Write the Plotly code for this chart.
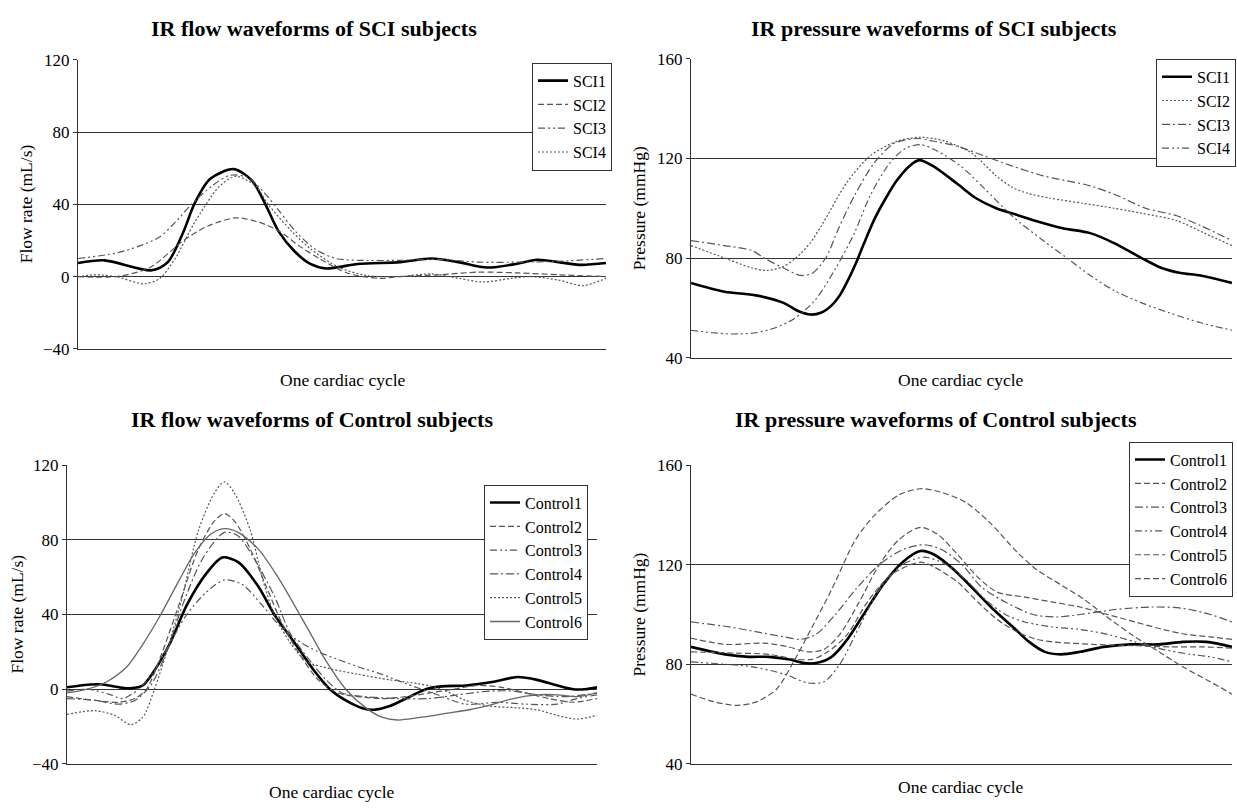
import plotly.graph_objects as go

# ---------------- DATA (x = % of one cardiac cycle) ----------------
# Panel 1: IR flow waveforms of SCI subjects (mL/s)
sci1_flow_x = [0, 5, 14, 17, 20, 22, 25, 29.5, 33, 35.5, 38, 41, 44, 47, 53, 61, 67, 72, 77.5, 83, 87, 95, 100]
sci1_flow_y = [7.5, 9, 3.5, 8, 25, 40, 54, 59.5, 53, 40, 25, 14, 7, 4.5, 7, 8, 10, 8, 5, 7, 9.3, 6.5, 7.5]
sci2_flow_x = [0, 7.2, 13.6, 20.0, 24.6, 29.9, 34.4, 38.2, 41.9, 45.7, 51.0, 57.1, 60.8, 68.4, 76.0, 83.5, 91.1, 100]
sci2_flow_y = [0, 0, 5, 20, 28, 32.5, 30, 25, 17, 10, 2, -1, 0, 1, 2.5, 2, 1, 0]
sci3_flow_x = [0, 7.2, 11.7, 15.5, 18.4, 21.5, 25.3, 28.7, 32.1, 35.1, 38.2, 41.2, 45.0, 48.8, 53.3, 60.8, 68.4, 76.0, 83.5, 91.1, 100]
sci3_flow_y = [10, 13, 17, 22, 30, 40, 50, 56, 55, 47, 36, 25, 15, 10, 9, 9, 9.5, 8, 8, 8.5, 10]
sci4_flow_x = [0, 3.4, 7.2, 12.5, 15.5, 18.4, 22.1, 26.8, 29.9, 33.7, 36.0, 40.5, 44.2, 49.5, 54.8, 60.8, 66.9, 72.2, 76.7, 82.0, 85.8, 91.1, 95.6, 100]
sci4_flow_y = [0, 1, 0, -4, -1, 10, 30, 50, 55.5, 50, 40, 25, 15, 5, 0.5, 0, 1.5, -1, -3, -1, 0, -2, -5, -1]

# Panel 2: IR pressure waveforms of SCI subjects (mmHg)
sci1_pres_x = [0, 6.2, 12, 17.1, 20, 22.1, 24, 26, 27.5, 29, 30.5, 32, 34, 36, 38, 40.4, 42.2, 44.7, 49.1, 52.7, 56.4, 59.3, 63.6, 68.7, 73.8, 78.2, 83.3, 87, 90.5, 94.2, 100]
sci1_pres_y = [70, 66.5, 65, 62, 58.5, 57.3, 58, 61, 65, 71, 78, 86, 96, 104, 111, 117, 119.3, 117, 110, 104, 100, 98, 95, 92, 90, 86, 80, 76, 74, 73, 70]
sci2_pres_x = [0, 6.2, 11.3, 14, 17, 19.4, 22, 24.4, 28.7, 33.1, 38.2, 42.5, 46.9, 52, 56.4, 59.3, 62.2, 66.5, 72.4, 78.2, 83.3, 89.8, 94.9, 100]
sci2_pres_y = [85, 80, 76, 75, 76.5, 80, 86, 94, 110, 121, 127, 128.5, 127, 122, 113, 108.5, 106, 104, 102, 100, 98, 95, 90, 85]
sci3_pres_x = [0, 6.2, 11.3, 13.5, 17.1, 20.3, 22.5, 24.9, 27.3, 30.2, 33.8, 37.5, 41.8, 44.7, 49.1, 54.2, 59.3, 65.1, 69.5, 73.8, 78.9, 84, 89.8, 94.2, 100]
sci3_pres_y = [87, 85, 83, 80, 76, 73, 74, 80, 92, 105, 118, 126, 128, 127, 125, 121, 117, 113, 111, 109, 105, 100, 97, 93, 87]
sci4_pres_x = [0, 4, 7.6, 12, 15.6, 19.3, 22.9, 26.5, 30.2, 33.1, 36.7, 39.6, 42.5, 45.5, 49.8, 54.2, 59.3, 65.1, 69.5, 73.8, 78.2, 83.3, 88.4, 94.2, 100]
sci4_pres_y = [51, 50, 49.5, 50, 52, 56, 63, 75, 90, 105, 118, 124, 125.5, 123, 117, 108, 97, 87, 80, 73, 67, 62, 58, 54, 51]

# Panel 3: IR flow waveforms of Control subjects (mL/s)
c1_flow_x = [0, 4.5, 6.8, 9.8, 12.0, 14.3, 16.5, 19.5, 22.6, 26.3, 29.3, 32.3, 36.1, 39.1, 42.9, 46.6, 49.6, 52.6, 55.6, 57.9, 60.9, 64.7, 67.7, 70.7, 75.2, 80.5, 85.0, 88.7, 92.5, 95.5, 97.7, 100]
c1_flow_y = [1, 2.5, 2.5, 1, 0.5, 2, 10, 25, 45, 62, 70.5, 68, 55, 40, 25, 10, 0, -6, -10, -11, -9, -4, 0, 1.5, 2, 4, 6.5, 5, 2, 0, 0, 1]
c2_flow_x = [0, 5.3, 9.8, 12.8, 15.0, 18.0, 21.1, 24.8, 27.8, 29.7, 31.6, 34.6, 37.6, 40.6, 43.6, 47.4, 51.1, 54.9, 59.4, 63.9, 68.4, 72.9, 77.4, 82.0, 86.5, 91.0, 95.5, 100]
c2_flow_y = [-4, -6, -7, -5, 0, 20, 45, 75, 90, 94, 90, 75, 55, 35, 20, 5, -2, -4, -5, -4, -2, 0, 2, 1, -2, -5, -7, -5]
c3_flow_x = [0, 3.8, 8.3, 10.5, 13.5, 16.5, 19.5, 22.6, 26.3, 29.7, 33.1, 36.8, 39.8, 43.6, 47.4, 51.1, 54.9, 59.4, 63.9, 69.9, 75.2, 81.2, 86.5, 92.5, 96.2, 100]
c3_flow_y = [-1, 0, -3, -5, 0, 10, 25, 40, 52, 58.5, 56, 45, 35, 26, 20, 16, 12, 8, 3, -3, -8, -7, -8, -8, -5, -3]
c4_flow_x = [0, 5.3, 9.8, 12.8, 15.8, 18.8, 21.8, 25.6, 29.7, 32.3, 35.3, 39.1, 42.1, 45.9, 48.9, 51.9, 56.4, 62.4, 68.4, 73.7, 79.7, 84.2, 88.7, 94.0, 100]
c4_flow_y = [-5, -6, -8, -6, 2, 20, 45, 70, 84, 82, 70, 50, 30, 15, 5, -2, -4, -5, -5, -3, -1, -1, -3, -4, -2]
c5_flow_x = [0, 5.3, 9.0, 12.0, 14.3, 16.5, 18.8, 21.8, 24.8, 27.8, 29.7, 31.6, 34.6, 36.8, 39.1, 42.1, 45.1, 49.6, 54.9, 60.9, 66.2, 70.7, 75.2, 79.7, 85.0, 88.7, 92.5, 96.2, 100]
c5_flow_y = [-13.5, -11.5, -14, -19, -15, 0, 20, 50, 85, 105, 111, 105, 85, 60, 40, 25, 15, 11, 8, 5, 3, 0, -6, -9, -10, -11, -14, -16, -14]
c6_flow_x = [0, 3.8, 7.5, 11.3, 14.3, 17.3, 21.1, 24.1, 27.1, 29.7, 32.3, 36.1, 39.8, 42.9, 45.9, 48.9, 52.6, 56.4, 59.4, 62.4, 66.9, 71.4, 75.9, 80.5, 84.2, 88.7, 92.5, 96.2, 100]
c6_flow_y = [-2, 0, 4, 12, 24, 38, 58, 73, 83, 86, 84, 75, 60, 45, 30, 15, 0, -10, -15, -16.5, -15, -13, -11, -8, -5, -3, -3, -4, -2]

# Panel 4: IR pressure waveforms of Control subjects (mmHg)
c1_pres_x = [0, 6.3, 10.7, 14.4, 18.0, 20.9, 23.1, 26.0, 28.9, 31.9, 35.5, 39.1, 42.4, 45.0, 48.6, 52.3, 55.9, 59.5, 62.5, 65.4, 68.3, 71.9, 76.3, 81.4, 86.5, 90.9, 95.3, 100]
c1_pres_y = [87, 84, 83, 83, 82, 80.5, 80.5, 83, 90, 100, 112, 121, 125.5, 124, 118, 110, 102, 95, 89, 85, 84, 85, 87, 88, 88, 89, 89, 87]
c2_pres_x = [0, 6.3, 13.6, 18.0, 21.6, 24.6, 27.5, 31.1, 34.8, 38.4, 42.4, 45.7, 49.3, 53.0, 56.6, 61.7, 66.8, 71.9, 77.0, 82.1, 87.2, 91.6, 96.0, 100]
c2_pres_y = [90.5, 88, 88.5, 87, 85, 86, 92, 105, 120, 130, 135, 132, 124, 115, 109, 107, 105, 103, 100, 97, 94, 92, 91, 90]
c3_pres_x = [0, 7.1, 12.2, 17.3, 20.2, 23.1, 26.7, 30.4, 34.8, 39.1, 43.1, 46.4, 50.1, 53.7, 58.1, 63.2, 67.6, 71.9, 78.5, 85.1, 90.9, 96.0, 100]
c3_pres_y = [97, 95, 93, 91, 90, 92, 100, 110, 120, 126, 128, 126, 120, 111, 105, 100, 99, 100, 102, 103, 102.5, 100, 97]
c4_pres_x = [0, 6.3, 11.4, 17.3, 21.6, 24.6, 27.5, 31.1, 34.8, 39.1, 43.1, 47.2, 50.8, 54.4, 58.1, 61.7, 66.8, 71.9, 77.0, 82.1, 87.2, 92.3, 96.0, 100]
c4_pres_y = [81, 80, 79, 76, 72.5, 73, 80, 95, 110, 120, 123, 120, 114, 106, 100, 97, 95, 94, 92, 89, 86, 84, 83, 81]
c5_pres_x = [0, 8.5, 14.4, 19.5, 22.4, 25.3, 28.9, 32.6, 37.0, 42.4, 45.0, 49.3, 53.0, 56.6, 60.3, 63.9, 66.8, 74.1, 81.4, 88.7, 94.5, 100]
c5_pres_y = [85, 84.5, 84, 82, 82, 85, 92, 105, 116, 121, 119, 113, 105, 98, 93, 90, 89, 88, 87.5, 87, 87, 86.5]
c6_pres_x = [0, 4.2, 8.5, 12.2, 15.8, 18.7, 22.4, 26.0, 30.4, 34.0, 38.4, 42.4, 46.4, 50.8, 55.2, 60.3, 63.9, 68.3, 72.7, 76.3, 81.4, 86.5, 90.9, 96.0, 100]
c6_pres_y = [68, 65, 63.5, 65, 70, 80, 95, 110, 130, 140, 148, 150.5, 149, 145, 137, 125, 118, 112, 106, 100, 92, 85, 79, 73, 68]

flow_ticks = [-40, 0, 40, 80, 120]
pres_ticks = [40, 80, 120, 160]

titles = ["IR flow waveforms of SCI subjects", "IR pressure waveforms of SCI subjects",
          "IR flow waveforms of Control subjects", "IR pressure waveforms of Control subjects"]
x_title = "One cardiac cycle"
flow_title = "Flow rate (mL/s)"
pres_title = "Pressure (mmHg)"

# ---------------- STYLE ----------------
W, H = 1237, 812
FONT = "Liberation Serif"
GRAY = "#555555"
DASH = "6px,3px"
DOT = "2px,2px"
DASHDOT = "8px,3px,2px,3px"
DASHDOTDOT = "7px,3px,2px,3px,2px,3px"

def px_x(p):
    return p / W

def px_y(p):
    return 1 - p / H

# plot areas in pixels: (left, right, top, bottom)
areas = [(78, 606, 52, 348), (691, 1232, 51, 357), (67, 597, 467, 773), (691, 1232, 467, 773)]

fig = go.Figure()

def add(x, y, name, axis, legend, dash="solid", color=GRAY, width=1.2):
    fig.add_trace(go.Scatter(
        x=x, y=y, name=name, mode="lines",
        line=dict(color=color, width=width, dash=dash, shape="spline", smoothing=0.8),
        xaxis="x" + axis, yaxis="y" + axis, legend=legend, hoverinfo="skip"))

add(sci1_flow_x, sci1_flow_y, "SCI1", "", "legend", color="black", width=2.6)
add(sci2_flow_x, sci2_flow_y, "SCI2", "", "legend", dash=DASH)
add(sci3_flow_x, sci3_flow_y, "SCI3", "", "legend", dash=DASHDOTDOT)
add(sci4_flow_x, sci4_flow_y, "SCI4", "", "legend", dash=DOT)

add(sci1_pres_x, sci1_pres_y, "SCI1", "2", "legend2", color="black", width=2.6)
add(sci2_pres_x, sci2_pres_y, "SCI2", "2", "legend2", dash=DOT)
add(sci3_pres_x, sci3_pres_y, "SCI3", "2", "legend2", dash=DASHDOT)
add(sci4_pres_x, sci4_pres_y, "SCI4", "2", "legend2", dash=DASHDOTDOT)

add(c1_flow_x, c1_flow_y, "Control1", "3", "legend3", color="black", width=2.6)
add(c2_flow_x, c2_flow_y, "Control2", "3", "legend3", dash=DASH)
add(c3_flow_x, c3_flow_y, "Control3", "3", "legend3", dash=DASHDOTDOT)
add(c4_flow_x, c4_flow_y, "Control4", "3", "legend3", dash=DASHDOT)
add(c5_flow_x, c5_flow_y, "Control5", "3", "legend3", dash=DOT)
add(c6_flow_x, c6_flow_y, "Control6", "3", "legend3", color="#666666", width=1.3)

add(c1_pres_x, c1_pres_y, "Control1", "4", "legend4", color="black", width=2.6)
add(c2_pres_x, c2_pres_y, "Control2", "4", "legend4", dash=DASH)
add(c3_pres_x, c3_pres_y, "Control3", "4", "legend4", dash=DASHDOT)
add(c4_pres_x, c4_pres_y, "Control4", "4", "legend4", dash=DASHDOTDOT)
add(c5_pres_x, c5_pres_y, "Control5", "4", "legend4", dash=DASH)
add(c6_pres_x, c6_pres_y, "Control6", "4", "legend4", dash=DASH)

layout = dict(
    width=W, height=H,
    margin=dict(l=0, r=0, t=0, b=0),
    paper_bgcolor="white", plot_bgcolor="white",
    font=dict(family=FONT, size=16, color="black"),
    showlegend=True,
)

ranges = [(-40, 120, flow_ticks), (40, 160, pres_ticks), (-40, 120, flow_ticks), (40, 160, pres_ticks)]
suffix = ["", "2", "3", "4"]
for i, (l, r, t, b) in enumerate(areas):
    s = suffix[i]
    lo, hi, tv = ranges[i]
    layout["xaxis" + s] = dict(
        domain=[px_x(l), px_x(r)], range=[0, 100], anchor="y" + s,
        showticklabels=False, ticks="", showgrid=False, zeroline=False,
        showline=True, linecolor="#333333", linewidth=1, fixedrange=True)
    layout["yaxis" + s] = dict(
        domain=[px_y(b), px_y(t)], range=[lo, hi], anchor="x" + s,
        tickvals=tv, ticks="outside", ticklen=4, tickcolor="#333333",
        showgrid=True, gridcolor="#333333", gridwidth=1, zeroline=False,
        showline=True, linecolor="#333333", linewidth=1,
        tickfont=dict(family=FONT, size=17, color="black"), fixedrange=True)

leg_common = dict(bgcolor="white", bordercolor="#333333", borderwidth=1,
                  font=dict(family=FONT, size=16, color="black"), xanchor="right", yanchor="top",
                  itemwidth=30, tracegroupgap=0)
layout["legend"] = dict(leg_common, x=px_x(612), y=px_y(55))
layout["legend2"] = dict(leg_common, x=px_x(1236), y=px_y(51))
layout["legend3"] = dict(leg_common, x=px_x(588), y=px_y(487))
layout["legend4"] = dict(leg_common, x=px_x(1233), y=px_y(443))

annotations = []
title_pos = [(314, 20), (934, 20), (312, 420), (936, 420)]
xt_pos = [(343, 380), (961, 380), (332, 802), (961, 797)]
yt_pos = [(26, 200), (639, 204), (17, 620), (639, 620)]
ytitles = [flow_title, pres_title, flow_title, pres_title]
for i in range(4):
    annotations.append(dict(text="<b>" + titles[i] + "</b>", x=px_x(title_pos[i][0]), y=px_y(title_pos[i][1]),
                            xref="paper", yref="paper", showarrow=False, xanchor="center", yanchor="middle",
                            font=dict(family=FONT, size=22, color="black")))
    annotations.append(dict(text=x_title, x=px_x(xt_pos[i][0]), y=px_y(xt_pos[i][1]),
                            xref="paper", yref="paper", showarrow=False, xanchor="center", yanchor="middle",
                            font=dict(family=FONT, size=17.5, color="black")))
    annotations.append(dict(text=ytitles[i], x=px_x(yt_pos[i][0]), y=px_y(yt_pos[i][1]),
                            xref="paper", yref="paper", showarrow=False, xanchor="center", yanchor="middle",
                            textangle=-90, font=dict(family=FONT, size=17.5, color="black")))
layout["annotations"] = annotations

fig.update_layout(**layout)
fig.write_html("out.html")
